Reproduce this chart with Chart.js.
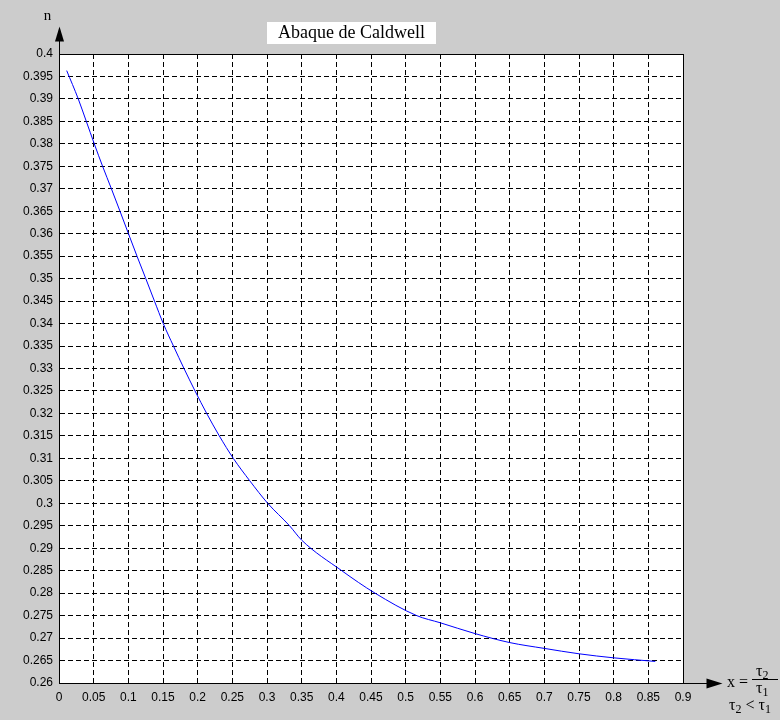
<!DOCTYPE html>
<html>
<head>
<meta charset="utf-8">
<title>Abaque de Caldwell</title>
<script src="https://cdn.jsdelivr.net/npm/chart.js@4/dist/chart.umd.min.js"></script>
<style>
  html, body { margin: 0; padding: 0; background: #cccccc; overflow: hidden; }
  canvas { display: block; }
</style>
</head>
<body>
<canvas id="caldwell" width="780" height="720"></canvas>
<script>
// Caldwell curve: n as a function of x = tau2 / tau1
const curveX = [0.0111, 0.0278, 0.0394, 0.0509, 0.0629, 0.0756, 0.088, 0.1002, 0.1125, 0.1252,
  0.1377, 0.1504, 0.1651, 0.1803, 0.1962, 0.213, 0.2312, 0.2514, 0.2752, 0.301, 0.3325, 0.35,
  0.4078, 0.4558, 0.5159, 0.55, 0.6, 0.65, 0.7, 0.75, 0.8, 0.86];
const curveN = [0.3963, 0.39, 0.385, 0.38, 0.375, 0.37, 0.365, 0.36, 0.355, 0.35,
  0.345, 0.34, 0.335, 0.33, 0.325, 0.32, 0.315, 0.31, 0.305, 0.3, 0.295, 0.2918,
  0.285, 0.28, 0.275, 0.2734, 0.271, 0.269, 0.2677, 0.2665, 0.2656, 0.2648];

const xTicks = [0, 0.05, 0.1, 0.15, 0.2, 0.25, 0.3, 0.35, 0.4, 0.45, 0.5, 0.55, 0.6, 0.65,
  0.7, 0.75, 0.8, 0.85, 0.9];
const yTicks = [0.26, 0.265, 0.27, 0.275, 0.28, 0.285, 0.29, 0.295, 0.3, 0.305, 0.31, 0.315,
  0.32, 0.325, 0.33, 0.335, 0.34, 0.345, 0.35, 0.355, 0.36, 0.365, 0.37, 0.375, 0.38, 0.385,
  0.39, 0.395, 0.4];

const titleText = 'Abaque de Caldwell';
const yLabel = 'n';

const tickFont = { family: "'Liberation Sans', Arial, sans-serif", size: 12 };
const serif = "'Liberation Serif', 'Times New Roman', serif";

// grey figure, white axes box, solid top/right edges, arrows and labels
const frame = {
  id: 'frame',
  beforeDraw(chart) {
    const { ctx, chartArea: a } = chart;
    ctx.save();
    ctx.fillStyle = '#cccccc';
    ctx.fillRect(0, 0, chart.width, chart.height);
    ctx.fillStyle = '#ffffff';
    ctx.fillRect(a.left, a.top, a.right - a.left, a.bottom - a.top);
    ctx.restore();
  },
  afterDraw(chart) {
    const { ctx, chartArea: a } = chart;
    const L = Math.round(a.left) + 0.5, R = Math.round(a.right) + 0.5;
    const T = Math.round(a.top) + 0.5, B = Math.round(a.bottom) + 0.5;
    ctx.save();
    ctx.strokeStyle = '#000';
    ctx.fillStyle = '#000';
    ctx.lineWidth = 1;

    // box edges and axis extensions
    ctx.beginPath();
    ctx.moveTo(L, T); ctx.lineTo(R, T); ctx.lineTo(R, B);
    ctx.moveTo(L, B); ctx.lineTo(L, T - 14);
    ctx.moveTo(R, B); ctx.lineTo(R + 24, B);
    ctx.stroke();

    // arrow heads
    ctx.beginPath();
    ctx.moveTo(L, T - 28); ctx.lineTo(L - 4.5, T - 13); ctx.lineTo(L + 4.5, T - 13);
    ctx.closePath(); ctx.fill();
    ctx.beginPath();
    ctx.moveTo(R + 39, B); ctx.lineTo(R + 23, B - 5); ctx.lineTo(R + 23, B + 5);
    ctx.closePath(); ctx.fill();

    // y label
    ctx.font = '15px ' + serif;
    ctx.textAlign = 'center';
    ctx.textBaseline = 'alphabetic';
    ctx.fillText(yLabel, L - 12, 20);

    // title box
    ctx.fillStyle = '#fff';
    ctx.fillRect(267, 22, 169, 22);
    ctx.fillStyle = '#000';
    ctx.font = '18px ' + serif;
    ctx.textAlign = 'left';
    ctx.fillText(titleText, 278, 38);

    // x label: x = tau2 / tau1, tau2 < tau1
    const tau = (s, x, y) => {
      ctx.font = '16px ' + serif;
      ctx.fillText('\u03c4', x, y);
      const w = ctx.measureText('\u03c4').width;
      ctx.font = '12px ' + serif;
      ctx.fillText(s, x + w, y + 3);
      return w + ctx.measureText(s).width;
    };
    ctx.font = '16px ' + serif;
    ctx.fillText('x =', 727, 687);
    const fx = 752;
    tau('2', fx + 4, 676);
    tau('1', fx + 4, 693);
    ctx.beginPath();
    ctx.moveTo(fx, 679.5); ctx.lineTo(fx + 26, 679.5);
    ctx.stroke();
    let px = 729;
    px += tau('2', px, 710);
    ctx.font = '16px ' + serif;
    ctx.fillText(' < ', px, 710);
    px += ctx.measureText(' < ').width;
    tau('1', px, 710);
    ctx.restore();
  }
};

new Chart(document.getElementById('caldwell'), {
  type: 'line',
  data: {
    datasets: [{
      data: curveX.map((x, i) => ({ x: x, y: curveN[i] })),
      borderColor: '#0000ff',
      borderWidth: 1,
      pointRadius: 0,
      cubicInterpolationMode: 'monotone',
      fill: false
    }]
  },
  options: {
    responsive: false,
    animation: false,
    devicePixelRatio: 1,
    layout: { padding: { left: 0, top: 54, right: 97, bottom: 7 } },
    plugins: { legend: { display: false }, tooltip: { enabled: false } },
    scales: {
      x: {
        type: 'linear',
        min: 0,
        max: 0.9,
        afterBuildTicks: s => { s.ticks = xTicks.map(v => ({ value: v })); },
        afterFit: s => { s.height = 30; },
        grid: { color: '#000', lineWidth: 1, drawTicks: false },
        border: { display: true, color: '#000', width: 1, dash: [5, 3] },
        ticks: {
          color: '#000', font: tickFont, padding: 7,
          autoSkip: false, maxRotation: 0,
          callback: v => String(v)
        }
      },
      y: {
        type: 'linear',
        min: 0.26,
        max: 0.4,
        afterBuildTicks: s => { s.ticks = yTicks.map(v => ({ value: v })); },
        afterFit: s => { s.width = 59; },
        grid: { color: '#000', lineWidth: 1, drawTicks: false },
        border: { display: true, color: '#000', width: 1, dash: [5, 3] },
        ticks: {
          color: '#000', font: tickFont, padding: 6,
          autoSkip: false,
          callback: v => String(v)
        }
      }
    }
  },
  plugins: [frame]
});
</script>
</body>
</html>
